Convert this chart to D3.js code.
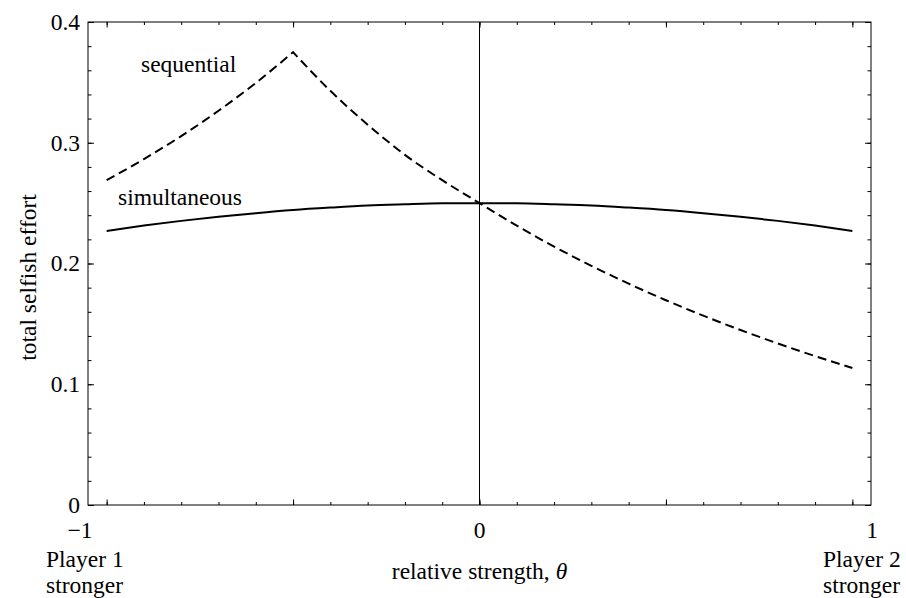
<!DOCTYPE html>
<html>
<head>
<meta charset="utf-8">
<script src="https://cdn.jsdelivr.net/npm/d3@7"></script>
<style>
  body { margin: 0; background: #fff; }
  svg { display: block; }
  text { font-family: "Liberation Serif", "Times New Roman", serif; fill: #000; }
</style>
</head>
<body>
<svg id="chart" width="906" height="598"></svg>
<script>
// ---- data ----
const theta = [-1, -0.9, -0.8, -0.7, -0.6, -0.5, -0.4, -0.3, -0.2, -0.1, 0,
               0.1, 0.2, 0.3, 0.4, 0.5, 0.6, 0.7, 0.8, 0.9, 1];
const simultaneous = [0.227, 0.2314, 0.2353, 0.2387, 0.2417, 0.2443, 0.2463, 0.248, 0.249, 0.2498, 0.25,
                      0.2498, 0.249, 0.248, 0.2463, 0.2443, 0.2417, 0.2387, 0.2353, 0.2314, 0.227];
const sequential = [0.269, 0.2865, 0.3055, 0.3265, 0.3495, 0.375, 0.343, 0.315, 0.290, 0.269, 0.25,
                    0.2313, 0.214, 0.1981, 0.1833, 0.1696, 0.1568, 0.1449, 0.1338, 0.1233, 0.1134];
const xDomain = [-1.05, 1.05];
const yDomain = [0, 0.4];
const xTickLabels = [{v: -1.05, t: "\u22121"}, {v: 0, t: "0"}, {v: 1.05, t: "1"}];
const yTickValues = [0, 0.1, 0.2, 0.3, 0.4];
const yTickLabels = ["0", "0.1", "0.2", "0.3", "0.4"];
const xMinorTicks = d3.range(-10, 11).map(i => i / 10);
const xMajorTicks = [-1, -0.5, 0, 0.5, 1];
const yMinorTicks = d3.range(0, 21).map(i => i / 50);
const seriesLabels = {sequential: "sequential", simultaneous: "simultaneous"};
const xTitle = "relative strength, ";
const yTitle = "total selfish effort";

// ---- layout ----
const L = 88, R = 871, T = 22, B = 505;
const FS = 23.5;
const svg = d3.select("#chart");
const x = d3.scaleLinear().domain(xDomain).range([L, R]);
const y = d3.scaleLinear().domain(yDomain).range([B, T]);

// frame
svg.append("rect").attr("x", L).attr("y", T).attr("width", R - L).attr("height", B - T)
  .attr("fill", "none").attr("stroke", "#000").attr("stroke-width", 1);

function addAxis(axis, transform) {
  const g = svg.append("g").attr("transform", transform).call(axis);
  g.select(".domain").remove();
  g.selectAll("line").attr("stroke", "#000").attr("stroke-width", 1);
  g.selectAll("text").remove();
}
// inward ticks on all four sides
addAxis(d3.axisBottom(x).tickValues(xMinorTicks).tickSize(-3), `translate(0,${B})`);
addAxis(d3.axisBottom(x).tickValues(xMajorTicks).tickSize(-5.5), `translate(0,${B})`);
addAxis(d3.axisTop(x).tickValues(xMinorTicks).tickSize(-3), `translate(0,${T})`);
addAxis(d3.axisTop(x).tickValues(xMajorTicks).tickSize(-5.5), `translate(0,${T})`);
addAxis(d3.axisLeft(y).tickValues(yMinorTicks).tickSize(-3.5), `translate(${L},0)`);
addAxis(d3.axisLeft(y).tickValues(yTickValues).tickSize(-6), `translate(${L},0)`);
addAxis(d3.axisRight(y).tickValues(yMinorTicks).tickSize(-3.5), `translate(${R},0)`);
addAxis(d3.axisRight(y).tickValues(yTickValues).tickSize(-6), `translate(${R},0)`);

// y tick labels
svg.append("g").selectAll("text").data(yTickValues).join("text")
  .attr("x", L - 8).attr("y", d => y(d)).attr("dy", "0.34em")
  .attr("text-anchor", "end").attr("font-size", FS)
  .text((d, i) => yTickLabels[i]);

// x tick labels
svg.append("g").selectAll("text").data(xTickLabels).join("text")
  .attr("x", d => d.v < 0 ? x(d.v) - 8 : (d.v > 0 ? x(d.v) + 1 : x(d.v)))
  .attr("y", B + 33)
  .attr("text-anchor", "middle").attr("font-size", FS)
  .text(d => d.t);

// vertical line at theta = 0
svg.append("line").attr("x1", x(0)).attr("x2", x(0)).attr("y1", T).attr("y2", B)
  .attr("stroke", "#000").attr("stroke-width", 1);

// curves
const pts = vals => theta.map((t, i) => [t, vals[i]]);
const line = d3.line().x(d => x(d[0])).y(d => y(d[1])).curve(d3.curveMonotoneX);

svg.append("path").attr("d", line(pts(simultaneous)))
  .attr("fill", "none").attr("stroke", "#000").attr("stroke-width", 2);

// sequential has a sharp corner at its peak: smooth each side separately, join as one path
const seqPts = pts(sequential);
const peak = d3.maxIndex(sequential);
const seqD = line(seqPts.slice(0, peak + 1)) + line(seqPts.slice(peak)).replace(/^M/, "L");
svg.append("path").attr("d", seqD)
  .attr("fill", "none").attr("stroke", "#000").attr("stroke-width", 2)
  .attr("stroke-dasharray", "9,5");

// series labels
svg.append("text").attr("x", 141).attr("y", 72).attr("font-size", FS).text(seriesLabels.sequential);
svg.append("text").attr("x", 118).attr("y", 205).attr("font-size", FS).text(seriesLabels.simultaneous);

// axis titles
const xt = svg.append("text").attr("x", x(0)).attr("y", 579).attr("text-anchor", "middle").attr("font-size", FS);
xt.append("tspan").text(xTitle);
xt.append("tspan").attr("font-style", "italic").text("\u03B8");

svg.append("text").attr("transform", `translate(36,${(T + B) / 2 + 14}) rotate(-90)`)
  .attr("text-anchor", "middle").attr("font-size", FS).text(yTitle);

// end annotations
svg.append("text").attr("x", 46).attr("y", 567).attr("font-size", FS).text("Player 1");
svg.append("text").attr("x", 46).attr("y", 593).attr("font-size", FS).text("stronger");
svg.append("text").attr("x", 823).attr("y", 567).attr("font-size", FS).text("Player 2");
svg.append("text").attr("x", 823).attr("y", 593).attr("font-size", FS).text("stronger");
</script>
</body>
</html>
